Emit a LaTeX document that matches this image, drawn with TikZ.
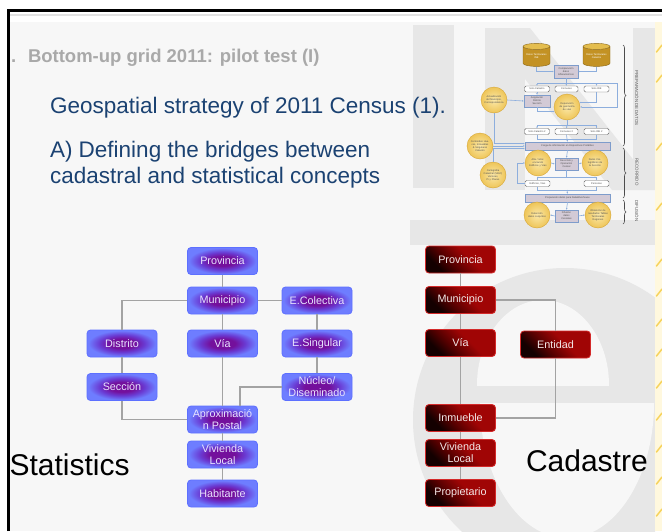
\documentclass[tikz,border=0pt]{standalone}
\usepackage{fontspec}
\setmainfont{Liberation Sans}
\usetikzlibrary{shapes.geometric,arrows.meta,decorations.pathreplacing}

% slide and watermark
\definecolor{slidebg}{HTML}{F7F7F7}
\definecolor{wmark}{HTML}{E7E7E7}
\definecolor{framegray}{HTML}{E2E2E2}
\definecolor{stripbg}{HTML}{FFF8DE}
\definecolor{stripmark}{HTML}{F7D35C}
% text
\definecolor{titlegray}{HTML}{A9A9A9}
\definecolor{headblue}{HTML}{1B4272}
% statistics boxes
\definecolor{sBlue}{HTML}{6E7DFF}
\definecolor{sMid}{HTML}{6A3AD2}
\definecolor{sPurple}{HTML}{74109C}
\definecolor{sEdge}{HTML}{5D70FF}
\definecolor{sText}{HTML}{E8E4FF}
% cadastre boxes
\definecolor{cDark}{HTML}{140000}
\definecolor{cDeep}{HTML}{520000}
\definecolor{cRed}{HTML}{A00505}
\definecolor{cEdge}{HTML}{D42A2A}
\definecolor{cText}{HTML}{F4E8E8}
\definecolor{linkgray}{HTML}{A3A3A3}
% process chart
\definecolor{fBlue}{HTML}{8DAEDD}
\definecolor{fBar}{HTML}{D3CAD6}
\definecolor{fBarEdge}{HTML}{7E9CCB}
\definecolor{fGoldIn}{HTML}{FBE8A8}
\definecolor{fGold}{HTML}{EEC558}
\definecolor{fGoldEdge}{HTML}{D6A636}
\definecolor{cylTop}{HTML}{E4BD4E}
\definecolor{cylBody}{HTML}{C39224}
\definecolor{fText}{HTML}{505050}

\pgfdeclareradialshading{statglow}{\pgfpoint{0bp}{0bp}}{%
  color(0bp)=(sPurple); color(9bp)=(sPurple); color(16bp)=(sMid);
  color(24bp)=(sBlue); color(50bp)=(sBlue)}
\pgfdeclareverticalshading{cadfade}{100bp}{%
  color(0bp)=(cRed); color(42bp)=(cRed); color(60bp)=(cDeep);
  color(72bp)=(cDark); color(100bp)=(cDark)}

\begin{document}
\begin{tikzpicture}[x=1pt,y=-1pt,
  plain/.style={inner sep=0pt, outer sep=0pt},
  statbox/.style={rounded corners=3.5pt, draw=sEdge, line width=0.8pt,
    shade, shading=statglow, minimum width=70pt, minimum height=27pt,
    inner sep=1pt, text=sText, align=center,
    font=\fontsize{10.8}{12}\selectfont},
  cadbox/.style={rounded corners=3.5pt, draw=cEdge, line width=0.8pt,
    shade, shading=cadfade, shading angle=135,
    minimum width=70pt, minimum height=27pt, inner sep=1pt,
    text=cText, align=center, font=\fontsize{10.8}{12}\selectfont},
  linkline/.style={draw=linkgray, line width=1.1pt},
  ftiny/.style={font=\fontsize{2.5}{3}\selectfont, text=fText, align=center},
  fsmall/.style={ftiny, draw=gray!80!black, fill=white, rounded corners=1.5pt,
    line width=0.4pt, minimum width=25pt, minimum height=6pt, inner sep=0pt},
  fbox/.style={ftiny, draw=fBarEdge, fill=fBar, line width=0.5pt,
    minimum width=24pt, minimum height=13pt, inner sep=0.5pt},
  fbar/.style={ftiny, draw=fBarEdge, fill=fBar, line width=0.5pt,
    minimum width=85pt, minimum height=8pt, inner sep=0pt},
  fcirc/.style={ftiny, circle, draw=fGoldEdge, line width=0.4pt,
    inner color=fGoldIn, outer color=fGold, minimum size=26pt, inner sep=0pt,
    text width=20pt},
  fcyl/.style={ftiny, cylinder, shape border rotate=90, aspect=0.3,
    draw=cylBody!70!black, line width=0.4pt, cylinder uses custom fill,
    cylinder body fill=cylBody, cylinder end fill=cylTop,
    minimum width=27pt, minimum height=23pt, inner sep=0pt, text=white},
  fline/.style={draw=fBlue, line width=0.6pt},
  farrow/.style={fline, -{Latex[length=1.6pt,width=1.6pt]}},
  fbrace/.style={draw=black!70, line width=0.6pt, decorate,
    decoration={brace, amplitude=3pt}},
  flabel/.style={plain, rotate=-90, text=black!65,
    font=\fontsize{4.4}{5}\selectfont}
]
\useasboundingbox (0,0) rectangle (662,531);

% ---------- slide frame ----------
\fill[white] (0,0) rectangle (662,531);
\fill[slidebg] (9,22) rectangle (662,531);
\draw[framegray, line width=2pt] (10,15) -- (662,15);

% ---------- logo watermark ----------
\begin{scope}
  \clip (10,22) rectangle (655,531);
  % I
  \fill[wmark] (413,25) rectangle (454,188);
  % N
  \fill[wmark] (485,28) rectangle (525,190);
  \fill[wmark] (485,28) -- (530,28) -- (657,190) -- (612,190) -- cycle;
  \fill[wmark] (633,28) rectangle (657,190);
  % band
  \fill[wmark] (410,220) rectangle (662,245);
  % e
  \fill[wmark] (565,420) circle [radius=152];
  \begin{scope}
    \clip (400,250) rectangle (662,385);
    \fill[slidebg] (543,385) ellipse [x radius=66, y radius=85];
  \end{scope}
  \begin{scope}
    \clip (400,403) rectangle (662,531);
    \fill[slidebg] (567,403) ellipse [x radius=87, y radius=135];
  \end{scope}
\end{scope}

% right edge strip
\fill[stripbg] (655,22) rectangle (662,531);
\foreach \yy in {52,82,150,210,266,296,326,356,388,420,452,484,516}
  \draw[stripmark, line width=1.5pt, line cap=round] (656.5,\yy) -- (662,\yy-7);

\draw[black, line width=2.5pt, line join=miter] (8.5,531) -- (8.5,10.7) -- (662,10.7);

% ---------- titles ----------
\node[plain, anchor=base west, text=titlegray, font=\bfseries\fontsize{18.5}{20}\selectfont]
  (dot) at (11,62) {.};
\node[plain, anchor=base west, text=titlegray, font=\bfseries\fontsize{18.5}{20}\selectfont]
  (title) at (28,62) {Bottom-up grid 2011: pilot test (I)};
\node[plain, anchor=base west, text=headblue, font=\fontsize{22.5}{26}\selectfont]
  (geo) at (50,113) {Geospatial strategy of 2011 Census (1).};
\node[plain, anchor=base west, text=headblue, font=\fontsize{22.5}{26}\selectfont]
  (defa) at (50,157) {A) Defining the bridges between};
\node[plain, anchor=base west, text=headblue, font=\fontsize{22.5}{26}\selectfont]
  (defb) at (50,183) {cadastral and statistical concepts};

% ---------- census process chart ----------
\node[fcyl] (cylA) at (536.5,56.5) {Datos Territoriales\\INE};
\node[fcyl] (cylB) at (596.5,56.5) {Datos Territoriales\\Catastro};
\node[fbox] (comp) at (566,71.5) {Comparación\\datos\\Alfanuméricos};
\node[fsmall] (sc1) at (537,89) {Solo Catastro};
\node[fsmall, minimum width=23pt] (co1) at (566.5,89) {Comunes};
\node[fsmall] (si1) at (596.5,89) {Solo INE};
\node[fbox, minimum width=26pt, minimum height=12pt] (asig) at (537,101) {Asignación\\Distrito\\Sección};
\node[fcirc] (dep) at (567,107) {Depuración de geometría de vías};
\node[fcirc] (act) at (494,100) {Actualización del Municipio, Correspondencia};
\node[fsmall] (sc2) at (537,131.5) {Solo Catastro 2};
\node[fsmall, minimum width=23pt] (co2) at (566.5,131.5) {Comunes 2};
\node[fsmall] (si2) at (596.5,131.5) {Solo INE 2};
\node[fbar] (carga) at (567.5,146) {Carga de información en Dispositivos Portátiles};
\node[fcirc] (cent) at (480,146) {Centroides Huecos, Inmuebles \& Singulares Catastro};
\node[fcirc] (cart) at (493,175) {Cartografía Catastral (SIGC) Vectores, Pi y Plazas};
\node[fcirc] (alta) at (538,163) {Alta / referenciación Edificios y Vías};
\node[fbox, minimum width=23pt, minimum height=12pt] (reco) at (566.5,164) {Recorrido y\\Operación\\Censal};
\node[fcirc] (dcar) at (595,163) {Datos Cartográficos de la Sección};
\node[fsmall] (edif) at (537.5,183.5) {Edificios, Vías};
\node[fsmall] (pers) at (596.5,183.5) {Personas};
\node[fbar] (prep) at (567.5,198) {Preparación datos para DataWarehouse};
\node[fcirc] (detc) at (537,215) {Detección datos conjuntos};
\node[fbox, minimum width=23pt, minimum height=12pt] (difu) at (566.5,216) {Difusión\\datos\\Censales};
\node[fcirc] (obte) at (598,215) {Obtención de resultados Tablas Territoriales Regiones};

\coordinate (fsplitA) at (566,83);
\coordinate (rloop) at (617,83);
\coordinate (fsplitB) at (567,125);
\coordinate (fmergeB) at (567,139);
\coordinate (fsplitC) at (566.5,177);
\coordinate (lloop) at (517,183.5);
\coordinate (fmergeC) at (567,190);

\draw[farrow] (cylA.south) |- (comp.west);
\draw[farrow] (cylB.south) |- (comp.east);
\draw[fline] (comp.south) -- (fsplitA);
\draw[farrow] (fsplitA) -| (sc1.north);
\draw[farrow] (fsplitA) -- (co1.north);
\draw[farrow] (fsplitA) -| (si1.north);
\draw[farrow] (fsplitA) -- (rloop) |- (dep.east);
\draw[farrow] (si1.south) |- (dep.20);
\draw[farrow] (sc1.south) -- (asig.north);
\draw[farrow] (act.east) -- (asig.west);
\draw[farrow] (asig.south) |- (dep.200);
\draw[fline] (dep.south) -- (fsplitB);
\draw[farrow] (fsplitB) -| (sc2.north);
\draw[farrow] (fsplitB) -- (co2.north);
\draw[farrow] (fsplitB) -| (si2.north);
\draw[fline] (sc2.south) |- (fmergeB);
\draw[fline] (si2.south) |- (fmergeB);
\draw[fline] (co2.south) -- (fmergeB);
\draw[farrow] (fmergeB) -- (carga.north);
\draw[farrow] (act.south) |- ([yshift=2.5pt]carga.west);
\draw[farrow] (cent.east) -- (carga.west);
\draw[farrow] (cart.north) |- ([yshift=-2.5pt]carga.west);
\draw[farrow] (carga.south) -- (reco.north);
\draw[farrow] (alta.east) -- (reco.west);
\draw[farrow] (reco.east) -- (dcar.west);
\draw[fline] (reco.south) -- (fsplitC);
\draw[farrow] (fsplitC) -| (edif.north);
\draw[farrow] (fsplitC) -| (pers.north);
\draw[farrow] (edif.west) -- (lloop) |- (alta.west);
\draw[fline] (edif.south) |- (fmergeC);
\draw[fline] (pers.south) |- (fmergeC);
\draw[farrow] (fmergeC) -- (prep.north);
\draw[farrow] (prep.south) -- (difu.north);
\draw[farrow] (difu.west) -- (detc.east);
\draw[farrow] (difu.east) -- (obte.west);

% phase braces and labels
\coordinate (brA) at (623,45);
\coordinate (brB) at (623,146);
\coordinate (brC) at (623,148);
\coordinate (brD) at (623,198);
\coordinate (brE) at (623,200);
\coordinate (brF) at (623,224);
\draw[fbrace] (brA) -- (brB);
\draw[fbrace] (brC) -- (brD);
\draw[fbrace] (brE) -- (brF);
\node[flabel] (phA) at (637,98) {PREPARACIÓN DE DATOS};
\node[flabel] (phB) at (637,172) {RECORRIDO};
\node[flabel] (phC) at (637,211) {DIFUSIÓN};

% ---------- statistics hierarchy ----------
\node[statbox] (sprov) at (222.5,261) {Provincia};
\node[statbox] (smun) at (222.5,300.5) {Municipio};
\node[statbox] (scol) at (317,300.5) {E.Colectiva};
\node[statbox] (sdis) at (122,343.5) {Distrito};
\node[statbox] (svia) at (222.5,343.5) {Vía};
\node[statbox] (ssin) at (317,343.5) {E.Singular};
\node[statbox] (ssec) at (122,387) {Sección};
\node[statbox] (snuc) at (317,387) {Núcleo/\\Diseminado};
\node[statbox] (sapr) at (222.5,419.5) {Aproximació\\n Postal};
\node[statbox] (sviv) at (222.5,454.5) {Vivienda\\Local};
\node[statbox] (shab) at (222.5,493.5) {Habitante};

\draw[linkline] (sprov) -- (smun);
\draw[linkline] (smun.west) -| (sdis.north);
\draw[linkline] (smun) -- (scol);
\draw[linkline] (smun) -- (svia);
\draw[linkline] (scol) -- (ssin);
\draw[linkline] (ssin) -- (snuc);
\draw[linkline] (sdis) -- (ssec);
\draw[linkline] (ssec.south) |- (sapr.west);
\draw[linkline] (svia) -- (sapr);
\draw[linkline] (snuc.west) -| ([xshift=17.5pt]sapr.north);
\draw[linkline] (sapr) -- (sviv);
\draw[linkline] (sviv) -- (shab);

\node[plain, anchor=base west, font=\fontsize{30}{34}\selectfont] (stat) at (9.5,475) {Statistics};

% ---------- cadastre hierarchy ----------
\node[cadbox] (cprov) at (460.5,259.5) {Provincia};
\node[cadbox] (cmun) at (460.5,300) {Municipio};
\node[cadbox] (cvia) at (460.5,343) {Vía};
\node[cadbox] (cent2) at (555.5,344.5) {Entidad};
\node[cadbox] (cinm) at (460.5,418) {Inmueble};
\node[cadbox] (cviv) at (460.5,453) {Vivienda\\Local};
\node[cadbox] (cpro) at (460.5,493) {Propietario};

\draw[linkline] (cprov) -- (cmun);
\draw[linkline] (cmun) -- (cvia);
\draw[linkline] (cvia) -- (cinm);
\draw[linkline] (cinm) -- (cviv);
\draw[linkline] (cviv) -- (cpro);
\draw[linkline] (cmun.east) -| (cent2.north);
\draw[linkline] (cent2.south) |- (cinm.east);

\node[plain, anchor=base west, font=\fontsize{30}{34}\selectfont] (cad) at (526,471) {Cadastre};
\end{tikzpicture}
\end{document}
